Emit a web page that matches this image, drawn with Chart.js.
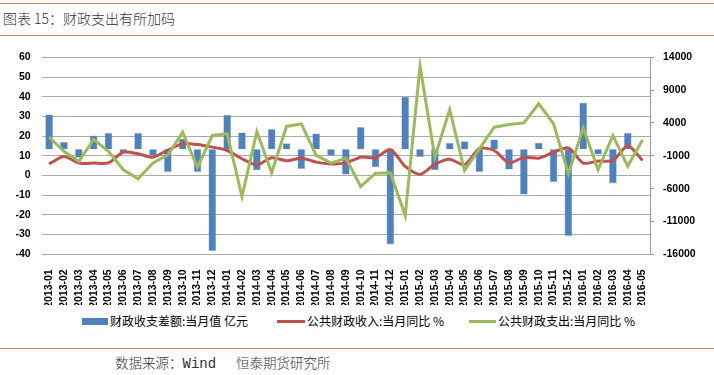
<!DOCTYPE html>
<html>
<head>
<meta charset="utf-8">
<script src="https://cdn.jsdelivr.net/npm/chart.js@4"></script>
<style>
  html, body { margin: 0; padding: 0; background: #fff; }
  body { width: 714px; height: 375px; position: relative; overflow: hidden; }
  .hline { position: absolute; left: 0; width: 714px; height: 1px; background: #d67a78; }
  #title { position: absolute; left: 3px; top: 9px; font-family: "Noto Sans CJK SC", sans-serif; font-size: 14px; color: #333; white-space: nowrap; line-height: 18px; font-weight: 300; }
  #source { position: absolute; left: 115px; top: 354px; font-family: "Noto Sans CJK SC", sans-serif; font-size: 13.5px; color: #333; white-space: pre; line-height: 17px; font-weight: 300; }
  #source .w { font-family: "Liberation Mono", monospace; font-size: 14px; }
  #wrap { position: absolute; left: 0; top: 40px; width: 714px; height: 265px; }
  .leg { position: absolute; top: 312px; font-family: "Noto Sans CJK SC", sans-serif; font-size: 12px; color: #000; white-space: nowrap; line-height: 17px; }
  .sw { position: absolute; }
</style>
</head>
<body>
<div class="hline" style="top:3px"></div>
<div id="title">图表 15：财政支出有所加码</div>
<div class="hline" style="top:35px"></div>
<div id="wrap"><canvas id="c"></canvas></div>

<div class="sw" style="left:82px; top:318px; width:26px; height:7px; background:#4f81bd;"></div>
<div class="leg" style="left:110px;">财政收支差额:当月值 亿元</div>
<div class="sw" style="left:277px; top:320px; width:28px; height:3px; background:#c0504d;"></div>
<div class="leg" style="left:307px;">公共财政收入:当月同比 %</div>
<div class="sw" style="left:469px; top:320px; width:27px; height:3px; background:#9bbb59;"></div>
<div class="leg" style="left:498px;">公共财政支出:当月同比 %</div>

<div class="hline" style="top:348px; background:#e07a7a;"></div>
<div id="source">数据来源：<span class="w">Wind  </span> 恒泰期货研究所</div>

<script>
const months = [
  "2013-01","2013-02","2013-03","2013-04","2013-05","2013-06","2013-07","2013-08","2013-09","2013-10","2013-11","2013-12",
  "2014-01","2014-02","2014-03","2014-04","2014-05","2014-06","2014-07","2014-08","2014-09","2014-10","2014-11","2014-12",
  "2015-01","2015-02","2015-03","2015-04","2015-05","2015-06","2015-07","2015-08","2015-09","2015-10","2015-11","2015-12",
  "2016-01","2016-02","2016-03","2016-04","2016-05"
];
// 财政收支差额:当月值 (亿元) - right axis
const balance = [
  5300, 1100, -1300, 2100, 2500, -600, 2500, -1000, -3500, 1600, -3500, -15500,
  5250, 2550, -3200, 3070, 900, -3000, 2400, -1000, -3850, 3370, -2750, -14500,
  8000, -1200, -3200, 950, 1200, -3450, 1500, -3100, -6900, 1000, -5000, -13200,
  7100, -800, -5200, 2470, null
];
// 公共财政收入:当月同比 (%) - left axis
const revenueYoY = [
  5.9, 9.6, 6.3, 6.3, 6.4, 11.8, 11.0, 9.3, 12.9, 16.1, 15.7, 14.4,
  12.7, 8.5, 5.4, 9.0, 7.5, 8.8, 6.8, 5.9, 6.4, 9.3, 9.1, 13.2,
  4.6, 0.6, 5.7, 8.3, 5.4, 13.7, 12.7, 6.4, 9.2, 8.8, 11.8, 14.0,
  6.3, 7.3, 7.6, 15.1, 7.6
];
// 公共财政支出:当月同比 (%) - left axis
const expenditureYoY = [
  19.5, 12.3, 7.1, 18.3, 12.3, 2.9, -1.7, 6.4, 10.4, 22.0, 4.2, 20.3,
  21.2, -10.7, 22.3, 1.4, 24.9, 26.2, 10.2, 6.3, 8.8, -5.6, 1.2, 1.4,
  -20.3, 55.5, 9.3, 33.5, 2.5, 13.5, 24.5, 25.9, 26.7, 36.4, 26.2, 0.8,
  24.2, 2.9, 20.3, 4.7, 18.1
];
const leftAxis = { min: -40, max: 60, step: 10 };
const rightAxis = { min: -16000, max: 14000, step: 5000 };

const tickFont = { family: "Liberation Sans", size: 10.5, weight: "bold" };

new Chart(document.getElementById("c"), {
  data: {
    labels: months,
    datasets: [
      { type: "line", label: "公共财政支出:当月同比 %", data: expenditureYoY, yAxisID: "y",
        borderColor: "#9bbb59", borderWidth: 3, pointRadius: 0, tension: 0, order: 1 },
      { type: "line", label: "公共财政收入:当月同比 %", data: revenueYoY, yAxisID: "y",
        borderColor: "#c0504d", borderWidth: 3, pointRadius: 0, tension: 0.25, order: 2 },
      { type: "bar", label: "财政收支差额:当月值 亿元", data: balance, yAxisID: "y1",
        backgroundColor: "#4f81bd", borderColor: "#8fb0d8", borderWidth: 0.6,
        barPercentage: 0.52, categoryPercentage: 1, order: 3 }
    ]
  },
  options: {
    responsive: true,
    maintainAspectRatio: false,
    animation: false,
    layout: { padding: { top: 16.7, left: 0, right: 0, bottom: 0 } },
    plugins: { legend: { display: false }, tooltip: { enabled: false } },
    scales: {
      x: {
        grid: { display: false },
        border: { display: false },
        ticks: { autoSkip: false, maxRotation: 90, minRotation: 90, padding: 7, font: tickFont, color: "#000" },
        afterFit: s => { s.height = 50.7; }
      },
      y: {
        position: "left",
        min: leftAxis.min, max: leftAxis.max,
        grid: { color: "#aaaaaa", lineWidth: 1, drawTicks: false },
        border: { display: false },
        ticks: { stepSize: leftAxis.step, padding: 11, font: tickFont, color: "#000" },
        afterFit: s => { s.width = 41.7; }
      },
      y1: {
        position: "right",
        min: rightAxis.min, max: rightAxis.max,
        grid: { drawOnChartArea: false, drawTicks: true, tickLength: 4, color: "#999999" },
        border: { display: true, color: "#999999", width: 1 },
        ticks: { stepSize: rightAxis.step, padding: 9, font: tickFont, color: "#000",
                 callback: v => String(v) },
        afterFit: s => { s.width = 64; }
      }
    }
  }
});
</script>
</body>
</html>
